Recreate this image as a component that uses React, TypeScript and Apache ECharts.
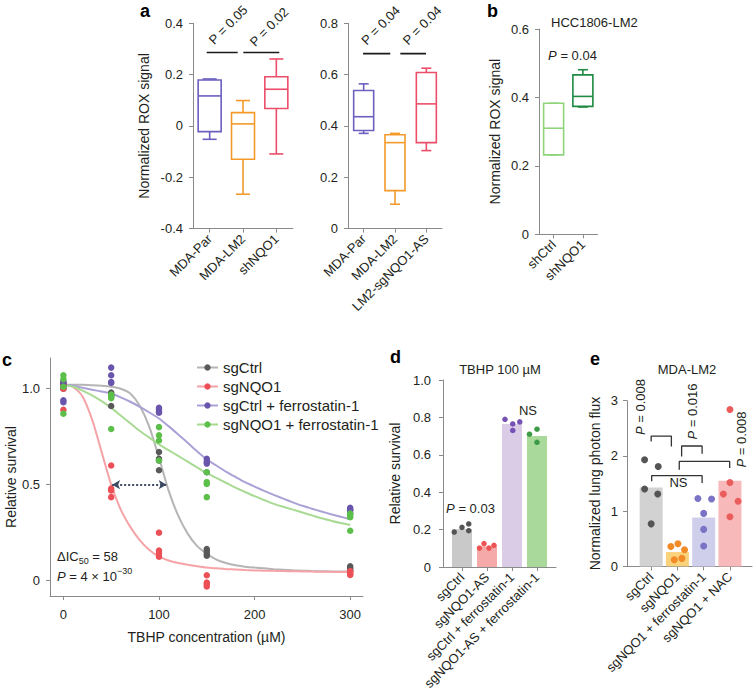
import React, { useEffect, useRef } from 'react';
import * as echarts from 'echarts';

const FONT = '"Liberation Sans", Arial, Helvetica, sans-serif';
const INK = '#231f20';
const AXIS_GRAY = '#8a8a8a';

// ---------- Panel a (left) ----------
const aLeftCategories = ['MDA-Par', 'MDA-LM2', 'shNQO1'];
// [min, Q1, median, Q3, max]
const aLeftBoxes = [
  [-0.052, -0.022, 0.117, 0.179, 0.183],
  [-0.266, -0.13, 0.008, 0.052, 0.099],
  [-0.109, 0.068, 0.143, 0.192, 0.261],
];
const aLeftColors = ['#6b5fbf', '#f39a2b', '#ec4e6a'];
const aLeftSigY = 0.286;
const aLeftSigSpans = [[-0.09, 0.84], [1.01, 2.09]];
const aLeftPTexts = ['P = 0.05', 'P = 0.02'];

// ---------- Panel a (right) ----------
const aRightCategories = ['MDA-Par', 'MDA-LM2', 'LM2-sgNQO1-AS'];
const aRightBoxes = [
  [0.371, 0.382, 0.436, 0.538, 0.564],
  [0.095, 0.148, 0.335, 0.366, 0.371],
  [0.304, 0.335, 0.486, 0.608, 0.625],
];
const aRightColors = ['#6b5fbf', '#f39a2b', '#ec4e6a'];
const aRightSigY = 0.682;
const aRightSigSpans = [[-0.02, 0.85], [1.17, 1.99]];
const aRightPTexts = ['P = 0.04', 'P = 0.04'];

// ---------- Panel b ----------
const bCategories = ['shCtrl', 'shNQO1'];
const bBoxes = [
  [0.232, 0.232, 0.31, 0.383, 0.383],
  [0.372, 0.374, 0.403, 0.466, 0.481],
];
const bColors = ['#8fd47b', '#1f8a43'];

// ---------- Panel c ----------
const cConcentrations = [0, 50, 100, 150, 300];
const cNames = ['sgCtrl', 'sgNQO1', 'sgCtrl + ferrostatin-1', 'sgNQO1 + ferrostatin-1'];
const cDotColors = ['#595959', '#ec5056', '#6a55ad', '#5cbf4a'];
const cLineColors = ['#b5b5b5', '#f5a3a6', '#aaa2d6', '#a8da93'];
// replicate survival at each concentration
const cSgCtrl = [[1.0, 1.02, 1.03, 1.01], [0.98, 0.97, 0.96, 0.91], [0.67, 0.635, 0.626, 0.575], [0.165, 0.153, 0.14, 0.13], [0.075, 0.065, 0.055, 0.05]];
const cSgNQO1 = [[0.89, 1.0, 1.02, 1.03], [0.6, 0.48, 0.47, 0.435], [0.25, 0.157, 0.143, 0.125], [0.028, -0.01, -0.02, -0.03], [0.05, 0.04, 0.035, 0.03]];
const cSgCtrlFer = [[0.93, 0.94, 1.04, 1.03], [1.11, 1.07, 1.035, 1.03], [0.9, 0.89, 0.875, 0.88], [0.635, 0.62, 0.61, 0.565], [0.38, 0.365, 0.35, 0.37]];
const cSgNQO1Fer = [[1.07, 1.05, 1.01, 0.87], [0.97, 0.96, 0.95, 0.79], [0.8, 0.757, 0.73, 0.626], [0.565, 0.513, 0.504, 0.435], [0.35, 0.34, 0.33, 0.26]];
// fitted dose-response curves at every 10 µM
const cFitX = [0, 10, 20, 30, 40, 50, 60, 70, 80, 90, 100, 110, 120, 130, 140, 150, 160, 170, 180, 190, 200, 210, 220, 230, 240, 250, 260, 270, 280, 290, 300];
const cFitSgCtrl = [1.02, 1.02, 1.02, 1.018, 1.015, 1.01, 1.0, 0.975, 0.91, 0.8, 0.64, 0.47, 0.34, 0.245, 0.18, 0.14, 0.11, 0.092, 0.08, 0.073, 0.068, 0.064, 0.06, 0.057, 0.054, 0.052, 0.05, 0.049, 0.048, 0.047, 0.047];
const cFitSgNQO1 = [1.02, 1.01, 0.96, 0.84, 0.67, 0.5, 0.37, 0.28, 0.21, 0.16, 0.125, 0.105, 0.092, 0.083, 0.075, 0.068, 0.064, 0.06, 0.058, 0.055, 0.053, 0.052, 0.051, 0.05, 0.049, 0.048, 0.047, 0.046, 0.046, 0.045, 0.045];
const cFitSgCtrlFer = [1.02, 1.015, 1.005, 0.995, 0.985, 0.975, 0.955, 0.932, 0.905, 0.876, 0.845, 0.805, 0.762, 0.718, 0.673, 0.632, 0.6, 0.568, 0.54, 0.513, 0.49, 0.468, 0.447, 0.427, 0.408, 0.39, 0.375, 0.36, 0.346, 0.333, 0.32];
const cFitSgNQO1Fer = [1.02, 1.01, 0.99, 0.965, 0.935, 0.9, 0.86, 0.82, 0.78, 0.745, 0.71, 0.68, 0.65, 0.62, 0.59, 0.56, 0.535, 0.51, 0.485, 0.462, 0.44, 0.42, 0.4, 0.385, 0.37, 0.355, 0.34, 0.325, 0.312, 0.3, 0.29];
const cIC50 = [51, 108];
const cXTicks = [0, 100, 200, 300];
const cYTicks = [0, 0.5, 1.0];

// ---------- Panel d ----------
const dCategories = ['sgCtrl', 'sgNQO1-AS', 'sgCtrl + ferrostatin-1', 'sgNQO1-AS + ferrostatin-1'];
const dMeans = [0.203, 0.11, 0.765, 0.7];
const dReplicates = [[0.187, 0.212, 0.23, 0.194], [0.101, 0.125, 0.101, 0.116], [0.79, 0.765, 0.73, 0.776], [0.71, 0.737, 0.667]];
const dJitter = [[-0.31, 0, 0.27, 0.27], [-0.3, -0.12, 0.08, 0.28], [-0.28, 0.03, 0.03, 0.31], [-0.3, 0, 0]];
const dBarColors = ['#c9c9c9', '#f6a9a9', '#dacbe7', '#a9d99b'];
const dDotColors = ['#555555', '#ee5353', '#7651b3', '#3d9b48'];

// ---------- Panel e ----------
const eCategories = ['sgCtrl', 'sgNQO1', 'sgNQO1 + ferrostatin-1', 'sgNQO1 + NAC'];
const eMeans = [1.43, 0.26, 0.885, 1.55];
const eReplicates = [[1.93, 1.81, 1.4, 1.31, 0.77], [0.36, 0.41, 0.3, 0.12, 0.145], [1.23, 1.22, 0.96, 0.67, 0.37], [2.84, 1.52, 1.31, 1.18, 0.9]];
const eJitter = [[-0.25, 0.27, -0.25, 0.25, 0], [-0.25, 0.02, 0.27, -0.12, 0.17], [-0.22, 0.3, 0, 0, 0], [0, 0, -0.25, 0.31, 0]];
const eBarColors = ['#d2d2d2', '#fbd27c', '#cfcfec', '#f7b9b9'];
const eDotColors = ['#555555', '#f28a25', '#7b74c6', '#eb5d5d'];
const eBrackets = [
  [[0, 2.26], [0, 2.36], [0.77, 2.36], [0.77, 2.17]],
  [[1.16, 1.99], [1.16, 2.18], [1.94, 2.18], [1.94, 2.04]],
  [[1.07, 1.75], [1.07, 1.9], [2.99, 1.9], [2.99, 1.78]],
  [[0.02, 1.54], [0.02, 1.645], [1.94, 1.645], [1.94, 1.51]],
];

// ---------- helpers ----------
const fmtNum = (v: number) => (Math.abs(v) < 1e-9 ? '0' : v.toFixed(1));

function valueAxis(gridIndex: number, o: any) {
  return {
    type: 'value',
    gridIndex,
    min: o.min,
    max: o.max,
    interval: o.interval,
    name: o.name,
    nameLocation: 'middle',
    nameGap: o.nameGap,
    nameMoveOverlap: false,
    nameTextStyle: { fontFamily: FONT, fontSize: 14, color: INK },
    axisLine: { show: true, onZero: false, lineStyle: { color: AXIS_GRAY, width: 1 } },
    axisTick: { show: true, length: 4, lineStyle: { color: AXIS_GRAY }, customValues: o.ticks },
    splitLine: { show: false },
    axisLabel: {
      color: INK,
      fontFamily: FONT,
      fontSize: 13,
      margin: o.margin ?? 10,
      rotate: o.rotate ?? 0,
      customValues: o.ticks,
      formatter: o.formatter,
      hideOverlap: false,
    },
  };
}

function catAxis(gridIndex: number, cats: string[], min: number, max: number) {
  return valueAxis(gridIndex, {
    min,
    max,
    ticks: cats.map((_, i) => i),
    rotate: 45,
    margin: 8,
    formatter: (v: number) => cats[Math.round(v)] ?? '',
  });
}

function boxSeries(gi: number, boxes: number[][], colors: string[], boxW: number, capW: number) {
  return {
    type: 'custom',
    xAxisIndex: gi,
    yAxisIndex: gi,
    silent: true,
    clip: false,
    data: boxes.map((b, i) => [i, ...b]),
    encode: { x: 0, y: [1, 2, 3, 4, 5] },
    renderItem: (params: any, api: any) => {
      const x = api.value(0);
      const lo = api.coord([x, api.value(1)]);
      const q1 = api.coord([x, api.value(2)]);
      const md = api.coord([x, api.value(3)]);
      const q3 = api.coord([x, api.value(4)]);
      const hi = api.coord([x, api.value(5)]);
      const cx = lo[0];
      const color = colors[params.dataIndex];
      const st = { stroke: color, lineWidth: 1.6, fill: 'none' };
      return {
        type: 'group',
        children: [
          { type: 'line', shape: { x1: cx, y1: q3[1], x2: cx, y2: hi[1] }, style: st },
          { type: 'line', shape: { x1: cx, y1: q1[1], x2: cx, y2: lo[1] }, style: st },
          { type: 'line', shape: { x1: cx - capW / 2, y1: hi[1], x2: cx + capW / 2, y2: hi[1] }, style: st },
          { type: 'line', shape: { x1: cx - capW / 2, y1: lo[1], x2: cx + capW / 2, y2: lo[1] }, style: st },
          { type: 'rect', shape: { x: cx - boxW / 2, y: q3[1], width: boxW, height: q1[1] - q3[1] }, style: { stroke: color, lineWidth: 1.6, fill: '#ffffff' } },
          { type: 'line', shape: { x1: cx - boxW / 2, y1: md[1], x2: cx + boxW / 2, y2: md[1] }, style: st },
        ],
      };
    },
  };
}

function segSeries(gi: number, pts: number[][], color = '#1a1a1a', width = 1.6) {
  return {
    type: 'line',
    xAxisIndex: gi,
    yAxisIndex: gi,
    data: pts,
    symbol: 'none',
    silent: true,
    animation: false,
    lineStyle: { color, width },
    z: 5,
  };
}

function text(x: number, y: number, t: string, o: any = {}) {
  const size = o.size ?? 13;
  const align = o.align ?? 'center';
  const va = o.va ?? 'middle';
  return {
    type: 'text',
    x,
    y,
    rotation: o.rotation ?? 0,
    silent: true,
    z: 100,
    style: {
      text: t,
      fill: o.color ?? INK,
      fontFamily: FONT,
      fontSize: size,
      fontWeight: o.weight ?? 'normal',
      align,
      textAlign: align,
      verticalAlign: va,
      textVerticalAlign: va,
      rich: o.rich,
    },
  };
}

const richP = (size = 13) => ({
  i: { fontStyle: 'italic', fontFamily: FONT, fontSize: size, fill: INK, color: INK },
  n: { fontFamily: FONT, fontSize: size, fill: INK, color: INK },
});

function buildOption() {
  const grids = [
    { left: 193, top: 23.3, width: 100, height: 205.3 }, // a left
    { left: 348, top: 23.3, width: 94, height: 205.3 }, // a right
    { left: 539, top: 29, width: 58.5, height: 205.3 }, // b
    { left: 50, top: 358, width: 313, height: 238 }, // c
    { left: 443, top: 380, width: 113, height: 187 }, // d
    { left: 627, top: 400.7, width: 125, height: 165.7 }, // e
  ].map((g) => ({ ...g, containLabel: false, outerBoundsMode: 'none' }));

  const xAxes = [
    catAxis(0, aLeftCategories, -0.5, 2.5),
    catAxis(1, aRightCategories, -0.5, 2.5),
    catAxis(2, bCategories, -0.5, 1.5),
    valueAxis(3, {
      min: -14, max: 313.4, ticks: cXTicks, margin: 12,
      name: 'TBHP concentration (\u00b5M)', nameGap: 34,
      formatter: (v: number) => String(v),
    }),
    catAxis(4, dCategories, -0.76, 3.76),
    catAxis(5, eCategories, -0.92, 3.84),
  ];

  const yAxes = [
    valueAxis(0, { min: -0.4, max: 0.4, interval: 0.2, name: 'Normalized ROX signal', nameGap: 42, formatter: fmtNum }),
    valueAxis(1, { min: 0, max: 0.8, interval: 0.2, formatter: fmtNum }),
    valueAxis(2, { min: 0, max: 0.6, interval: 0.2, name: 'Normalized ROX signal', nameGap: 37, formatter: fmtNum }),
    valueAxis(3, { min: -0.08, max: 1.16, ticks: cYTicks, name: 'Relative survival', nameGap: 32, formatter: fmtNum }),
    valueAxis(4, { min: 0, max: 1, interval: 0.2, name: 'Relative survival', nameGap: 41, margin: 12, formatter: fmtNum }),
    valueAxis(5, { min: 0, max: 3, interval: 1, name: 'Normalized lung photon flux', nameGap: 25, margin: 9, formatter: (v: number) => String(Math.round(v)) }),
  ];

  const series: any[] = [];

  // a, b boxes
  series.push(boxSeries(0, aLeftBoxes, aLeftColors, 23, 14));
  series.push(boxSeries(1, aRightBoxes, aRightColors, 20, 10));
  series.push(boxSeries(2, bBoxes, bColors, 20, 10));
  aLeftSigSpans.forEach((s) => series.push(segSeries(0, [[s[0], aLeftSigY], [s[1], aLeftSigY]])));
  aRightSigSpans.forEach((s) => series.push(segSeries(1, [[s[0], aRightSigY], [s[1], aRightSigY]])));

  // c curves
  const fits = [cFitSgCtrl, cFitSgNQO1, cFitSgCtrlFer, cFitSgNQO1Fer];
  fits.forEach((f, k) => {
    const s: any = {
      type: 'line',
      name: cNames[k],
      xAxisIndex: 3,
      yAxisIndex: 3,
      data: f.map((v, i) => [cFitX[i], v]),
      smooth: 0.25,
      showSymbol: false,
      symbol: 'circle',
      symbolSize: 7,
      silent: true,
      itemStyle: { color: cDotColors[k] },
      lineStyle: { color: cLineColors[k], width: 2 },
      z: 2,
    };
    if (k === 0) {
      s.markLine = {
        silent: true,
        symbol: ['arrow', 'arrow'],
        symbolSize: [7, 8],
        label: { show: false },
        lineStyle: { color: '#3d4a63', type: 'dotted', width: 2 },
        data: [[{ coord: [cIC50[0], 0.5] }, { coord: [cIC50[1], 0.5] }]],
      };
    }
    series.push(s);
  });
  const reps = [cSgCtrl, cSgNQO1, cSgCtrlFer, cSgNQO1Fer];
  reps.forEach((r, k) => {
    series.push({
      type: 'scatter',
      name: cNames[k] + ' replicates',
      xAxisIndex: 3,
      yAxisIndex: 3,
      data: r.flatMap((vals, i) => vals.map((v) => [cConcentrations[i], v])),
      symbolSize: 6.5,
      itemStyle: { color: cDotColors[k], opacity: 1 },
      silent: true,
      z: 3,
    });
  });

  // d bars + dots
  series.push({
    type: 'bar',
    xAxisIndex: 4,
    yAxisIndex: 4,
    barWidth: 20,
    silent: true,
    data: dMeans.map((v, i) => ({ value: [i, v], itemStyle: { color: dBarColors[i] } })),
  });
  dReplicates.forEach((vals, i) => {
    series.push({
      type: 'scatter',
      xAxisIndex: 4,
      yAxisIndex: 4,
      symbolSize: 5.5,
      silent: true,
      itemStyle: { color: dDotColors[i], opacity: 1 },
      data: vals.map((v, j) => [i + dJitter[i][j], v]),
      z: 3,
    });
  });

  // e bars + dots + brackets
  series.push({
    type: 'bar',
    xAxisIndex: 5,
    yAxisIndex: 5,
    barWidth: 23,
    silent: true,
    data: eMeans.map((v, i) => ({ value: [i, v], itemStyle: { color: eBarColors[i] } })),
  });
  eReplicates.forEach((vals, i) => {
    series.push({
      type: 'scatter',
      xAxisIndex: 5,
      yAxisIndex: 5,
      symbolSize: 7,
      silent: true,
      itemStyle: { color: eDotColors[i], opacity: 1 },
      data: vals.map((v, j) => [i + eJitter[i][j], v]),
      z: 3,
    });
  });
  eBrackets.forEach((b) => series.push(segSeries(5, b, '#333333', 1.3)));

  const graphic = [
    // panel letters
    text(140, 10.5, 'a', { size: 18, weight: 'bold', align: 'left', color: '#000' }),
    text(487, 10.5, 'b', { size: 18, weight: 'bold', align: 'left', color: '#000' }),
    text(2, 360, 'c', { size: 18, weight: 'bold', align: 'left', color: '#000' }),
    text(390, 357, 'd', { size: 18, weight: 'bold', align: 'left', color: '#000' }),
    text(590, 359, 'e', { size: 18, weight: 'bold', align: 'left', color: '#000' }),
    // titles
    text(551, 22.5, 'HCC1806-LM2', { align: 'left' }),
    text(500, 369, 'TBHP 100 \u00b5M'),
    text(687, 369, 'MDA-LM2'),
    // a P values (rotated)
    text(211, 42, aLeftPTexts[0], { align: 'left', rotation: Math.PI / 4 }),
    text(252, 44, aLeftPTexts[1], { align: 'left', rotation: Math.PI / 4 }),
    text(363.5, 42.5, aRightPTexts[0], { align: 'left', rotation: Math.PI / 4 }),
    text(405, 42.5, aRightPTexts[1], { align: 'left', rotation: Math.PI / 4 }),
    // b
    text(572.5, 55, '{i|P}{n| = 0.04}', { rich: richP() }),
    // c annotations
    text(57, 556.5, '{m|\u0394IC}{s|50}{m| = 58}', {
      align: 'left',
      rich: {
        m: { fontFamily: FONT, fontSize: 13, lineHeight: 17, fill: INK, color: INK },
        s: { fontFamily: FONT, fontSize: 9, lineHeight: 9, verticalAlign: 'bottom', fill: INK, color: INK },
      },
    }),
    text(57, 576.5, '{i|P}{m| = 4 \u00d7 10}{s|\u221230}', {
      align: 'left',
      rich: {
        i: { fontFamily: FONT, fontSize: 13, fontStyle: 'italic', lineHeight: 20, fill: INK, color: INK },
        m: { fontFamily: FONT, fontSize: 13, lineHeight: 20, fill: INK, color: INK },
        s: { fontFamily: FONT, fontSize: 9, lineHeight: 9, verticalAlign: 'top', fill: INK, color: INK },
      },
    }),
    // d
    text(470.5, 508, '{i|P}{n| = 0.03}', { rich: richP() }),
    text(528, 410, 'NS'),
    // e
    text(640, 407, '{i|P}{n| = 0.008}', { rich: richP(), rotation: Math.PI / 2 }),
    text(692, 411.5, '{i|P}{n| = 0.016}', { rich: richP(), rotation: Math.PI / 2 }),
    text(741, 439.5, '{i|P}{n| = 0.008}', { rich: richP(), rotation: Math.PI / 2 }),
    text(678.5, 482.5, 'NS'),
  ];

  return {
    animation: false,
    backgroundColor: '#ffffff',
    textStyle: { fontFamily: FONT },
    grid: grids,
    xAxis: xAxes,
    yAxis: yAxes,
    legend: {
      show: true,
      orient: 'vertical',
      left: 191,
      top: 355,
      itemGap: 4,
      itemWidth: 21,
      itemHeight: 8,
      selectedMode: false,
      textStyle: { fontFamily: FONT, fontSize: 15, color: INK },
      data: cNames.map((n, k) => ({
        name: n,
        itemStyle: { color: cDotColors[k], borderWidth: 0 },
        lineStyle: { color: cLineColors[k], width: 2 },
      })),
    },
    series,
    graphic,
  };
}

export default function App() {
  const ref = useRef<HTMLDivElement>(null);
  useEffect(() => {
    if (!ref.current) return;
    const chart = echarts.init(ref.current, null, { renderer: 'svg' });
    chart.setOption(buildOption() as any);
    return () => chart.dispose();
  }, []);
  return (
    <div
      ref={ref}
      style={{ position: 'absolute', left: 0, top: 0, width: 753, height: 700, background: '#ffffff' }}
    />
  );
}
